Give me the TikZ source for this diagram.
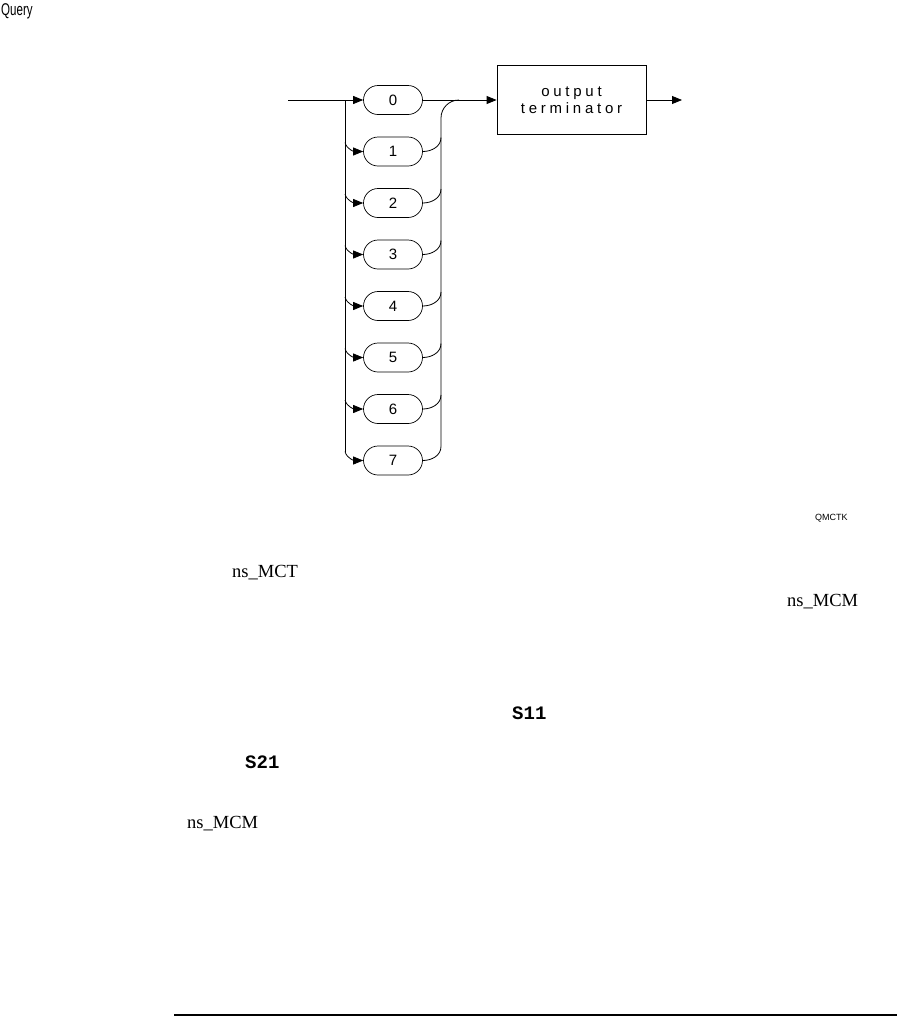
\documentclass[tikz,border=0pt]{standalone}
\usepackage{fontspec}
\setmainfont{Liberation Serif}
\setsansfont{Liberation Sans}
\setmonofont{Liberation Mono}
\newfontfamily\termfont[LetterSpace=25]{Liberation Sans}
\usetikzlibrary{arrows.meta,shapes.misc}
\begin{document}
\begin{tikzpicture}[x=1pt,y=-1pt,
  pill/.style={draw, rounded rectangle, minimum width=59pt, minimum height=29pt, inner sep=0pt,
    font=\sffamily\fontsize{15}{15}\selectfont, line width=0.7pt},
  tip/.style={-{Triangle[length=10pt,width=8pt]}},
  ln/.style={line width=0.8pt},
  serif/.style={font=\fontsize{18.5}{18.5}\selectfont, inner sep=0pt, anchor=base west},
  mono/.style={font=\ttfamily\bfseries\fontsize{19}{19}\selectfont, inner sep=0pt, anchor=base west}]
\useasboundingbox (0,0) rectangle (897,1018);
\node[anchor=north west, inner sep=0pt] (q) at (1,3) {\sffamily\fontsize{17}{17}\selectfont\scalebox{0.68}[1]{Query}};
% pills
\foreach \k in {0,...,7} {
  \node[pill] (p\k) at (393,100+51.5*\k) {\k};
}
% output terminator box
\node[draw, line width=0.8pt, minimum width=149pt, minimum height=69pt, inner sep=0pt, align=center,
  font=\termfont\fontsize{15}{17}\selectfont] (box) at (571.5,100) {output\\terminator};
% entry
\coordinate (start) at (288,100);
\draw[ln,tip] (start) -- (p0.west);
% left bar and branches
\foreach \k in {1,...,7} {
  \coordinate (b\k) at (345,100+51.5*\k-9);
  \coordinate (r\k) at (441,100+51.5*\k-14);
}
\coordinate (bt) at (345,100);
\draw[ln] (bt) -- (b7);
\foreach \k in {1,...,7} {
  \draw[ln,tip] (b\k) to[out=-75,in=180] (p\k.west);
  \draw[ln] (p\k.east) to[out=0,in=-90] (r\k);
}
% right bar
\coordinate (rt) at (441,118);
\coordinate (rj) at (459,100);
\draw[ln] (r7) -- (rt) to[out=90,in=180] (rj);
\draw[ln,tip] (p0.east) -- (box.west);
% output
\coordinate (end) at (682,100);
\draw[ln,tip] (box.east) -- (end);
% texts
\node[anchor=west, inner sep=0pt, font=\sffamily\fontsize{9}{9}\selectfont] (qm) at (815,518) {QMCTK};
\node[serif] (t1) at (232,577) {ns\_MCT};
\node[serif] (t2) at (787,606) {ns\_MCM};
\node[mono] (t3) at (512,719) {S11};
\node[mono] (t4) at (245,768) {S21};
\node[serif] (t5) at (187,828) {ns\_MCM};
% bottom rule
\coordinate (l1) at (174,1015);
\coordinate (l2) at (897,1015);
\draw[line width=2.5pt] (l1) -- (l2);
\end{tikzpicture}
\end{document}
